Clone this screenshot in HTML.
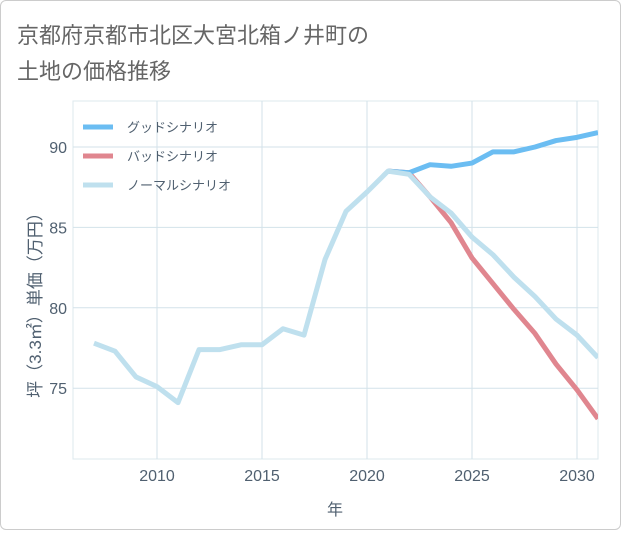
<!DOCTYPE html>
<html><head><meta charset="utf-8">
<style>
body{margin:0;background:#fff;}
#card{position:absolute;left:0;top:0;width:619px;height:528px;border:1px solid #ccc;border-radius:6px;background:#fff;}
text{font-family:"Liberation Sans","Noto Sans CJK JP",sans-serif;}
</style></head>
<body>
<div id="card">
<svg id="chart" width="621" height="530">
<text x="16" y="42" font-size="22" fill="#666">京都府京都市北区大宮北箱ノ井町の</text>
<text x="16" y="78" font-size="22" fill="#666">土地の価格推移</text>
<g id="grid"></g>
<g id="lines"></g>
<g id="legend"></g>
<text x="334" y="514" font-size="16" fill="#506070" text-anchor="middle">年</text>
<text transform="translate(40,300) rotate(-90)" font-size="17" fill="#506070" text-anchor="middle">坪（3.3㎡）単価（万円）</text>
</svg>
</div>
<script>
const years=[2007,2008,2009,2010,2011,2012,2013,2014,2015,2016,2017,2018,2019,2020,2021,2022,2023,2024,2025,2026,2027,2028,2029,2030,2031];
const normal=[77.8,77.3,75.7,75.1,74.1,77.4,77.4,77.7,77.7,78.7,78.3,83.0,86.0,87.2,88.5,88.3,86.9,85.9,84.4,83.3,81.9,80.7,79.3,78.3,76.9];
const goodYears=[2021,2022,2023,2024,2025,2026,2027,2028,2029,2030,2031];
const good=[88.5,88.4,88.9,88.8,89.0,89.7,89.7,90.0,90.4,90.6,90.9];
const bad=[88.5,88.4,86.9,85.3,83.1,81.5,79.9,78.4,76.5,74.9,73.1];
const xTicks=[2010,2015,2020,2025,2030];
const yTicks=[75,80,85,90];
const X0=72,X1=597,Y0=100,Y1=458;
const xs=y=>156+(y-2010)*21;
const ys=v=>146+(90-v)*16.08;
const NS="http://www.w3.org/2000/svg";
function mk(tag,attrs,parent){const e=document.createElementNS(NS,tag);for(const k in attrs)e.setAttribute(k,attrs[k]);parent.appendChild(e);return e;}
const grid=document.getElementById('grid');
mk('rect',{x:X0,y:Y0,width:X1-X0,height:Y1-Y0,fill:'none',stroke:'#dde8ee'},grid);
xTicks.forEach(t=>{
 const l=mk('line',{x1:xs(t),x2:xs(t),y1:Y0,y2:Y1,stroke:'#d3e2ea'},grid);
 
 
 const tx=mk('text',{x:xs(t),y:Y1+22,'font-size':16,fill:'#506070','text-anchor':'middle'},grid);tx.textContent=t;
 
 
});
yTicks.forEach(t=>{
 const l=mk('line',{x1:X0,x2:X1,y1:ys(t),y2:ys(t),stroke:'#d3e2ea'},grid);
 
 
 const tx=mk('text',{x:X0-6,y:ys(t)+6,'font-size':16,fill:'#506070','text-anchor':'end'},grid);tx.textContent=t;
 
 
});
const lines=document.getElementById('lines');
function series(xv,yv,color,name){
 const d=xv.map((x,i)=>(i?'L':'M')+xs(x)+','+ys(yv[i])).join(' ');
 const p=mk('path',{d:d,fill:'none',stroke:color,'stroke-width':5,'stroke-linejoin':'round'},lines);
 
 
}
const cp=mk('clipPath',{id:'cp'},lines);mk('rect',{x:X0,y:Y0,width:X1-X0,height:Y1-Y0},cp);
lines.setAttribute('clip-path','url(#cp)');
series(goodYears,bad,'#e0868f','bad-scenario-line');
series(goodYears,good,'#6bbdf2','good-scenario-line');
series(years,normal,'#bfe0ee','normal-scenario-line');
const lg=document.getElementById('legend');
[['グッドシナリオ','#6bbdf2'],['バッドシナリオ','#e0868f'],['ノーマルシナリオ','#bfe0ee']].forEach((e,i)=>{
 const y=126+i*29;
 const g=mk('g',{},lg);
 
 
 mk('line',{x1:82,x2:112,y1:y,y2:y,stroke:e[1],'stroke-width':5},g);
 const t=mk('text',{x:126,y:y+5,'font-size':13,fill:'#506070'},g);t.textContent=e[0];
});
</script>
</body></html>
